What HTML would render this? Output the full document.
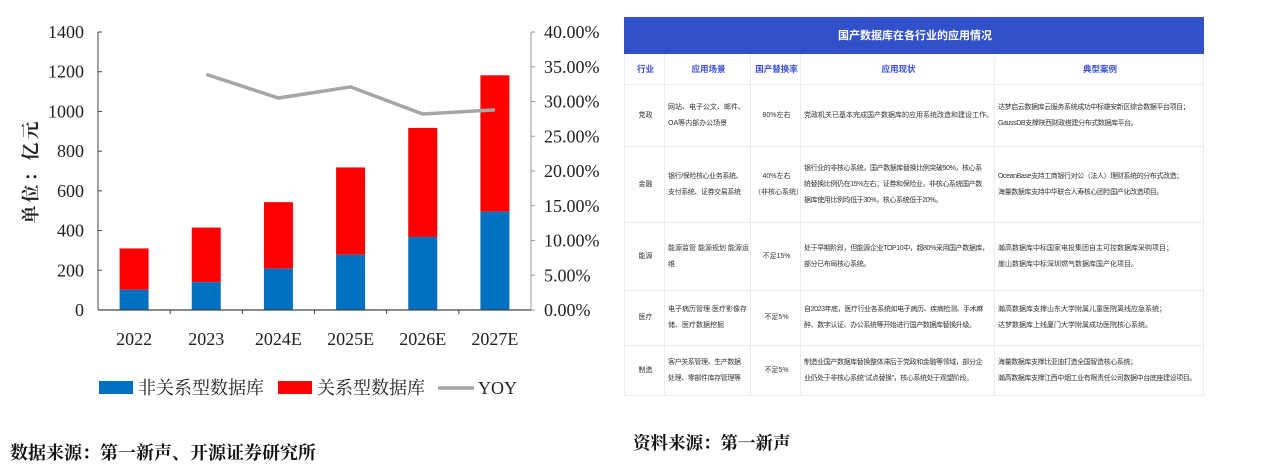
<!DOCTYPE html>
<html><head><meta charset="utf-8">
<style>
body{margin:0;width:1267px;height:473px;background:#fff;position:relative;overflow:hidden;font-family:"Liberation Serif","Noto Serif CJK SC",serif;}
svg text{font-family:"Liberation Serif","Noto Serif CJK SC",serif;}
#tbl{position:absolute;left:624px;top:17px;width:579px;border-collapse:collapse;table-layout:fixed;font-family:"Liberation Sans","Noto Sans CJK SC",sans-serif;font-size:7px;color:#333;line-height:16px;white-space:nowrap;}
#tbl td{border:1px solid #ececec;padding:0 1px 0 3px;vertical-align:middle;overflow:visible;}
#tbl .title{background:#3150c9;color:#fff;font-weight:bold;font-size:11px;text-align:center;border-color:#3150c9;}
#tbl .hd td{color:#3a4fd4;font-weight:bold;text-align:center;font-size:8.5px;}
.c{text-align:center;}
.t{letter-spacing:-0.4px;}
.src{position:absolute;font-weight:bold;font-size:18px;font-family:"Liberation Serif","Noto Serif CJK SC",serif;color:#111;}
</style></head><body>
<svg id="chart" width="600" height="420" style="position:absolute;left:0;top:0"></svg>
<div class="src" style="left:10px;top:439px">数据来源：第一新声、开源证券研究所</div>
<div class="src" style="left:633px;top:430px;font-size:17.5px">资料来源：第一新声</div>
<table id="tbl">
<colgroup><col style="width:40px"><col style="width:86px"><col style="width:50px"><col style="width:194px"><col style="width:209px"></colgroup>
<tr style="height:36px"><td colspan="5" class="title">国产数据库在各行业的应用情况</td></tr>
<tr class="hd" style="height:31px"><td>行业</td><td>应用场景</td><td>国产替换率</td><td>应用现状</td><td>典型案例</td></tr>
<tr style="height:62px"><td class="c">党政</td><td>网站、电子公文、邮件、<br>OA等内部办公场景</td><td class="c">80%左右</td><td>党政机关已基本完成国产数据库的应用系统改造和建设工作。</td><td class="t">达梦启云数据库云服务系统成功中标雄安新区综合数据平台项目；<br>GaussDB支撑陕西财政搭建分布式数据库平台。</td></tr>
<tr style="height:76px"><td class="c">金融</td><td class="t">银行/保险核心业务系统、<br>支付系统、证券交易系统</td><td class="c">40%左右<br>（非核心系统）</td><td class="t">银行业的非核心系统，国产数据库替换比例突破50%，核心系<br>统替换比例仍在15%左右；证券和保险业，非核心系统国产数<br>据库使用比例均低于30%，核心系统低于20%。</td><td class="t">OceanBase支持工商银行对公（法人）理财系统的分布式改造；<br>海量数据库支持中华联合人寿核心团险国产化改造项目。</td></tr>
<tr style="height:68px"><td class="c">能源</td><td>能源监管 能源规划 能源运<br>维</td><td class="c">不足15%</td><td class="t">处于早期阶段，但能源企业TOP10中，超80%采用国产数据库，<br>部分已布局核心系统。</td><td>瀚高数据库中标国家电投集团自主可控数据库采购项目；<br>崖山数据库中标深圳燃气数据库国产化项目。</td></tr>
<tr style="height:55px"><td class="c">医疗</td><td>电子病历管理 医疗影像存<br>储、医疗数据挖掘</td><td class="c">不足5%</td><td class="t">自2023年底，医疗行业各系统如电子病历、疾病检测、手术麻<br>醉、数字认证、办公系统等开始进行国产数据库替换升级。</td><td>瀚高数据库支撑山东大学附属儿童医院离线应急系统；<br>达梦数据库上线厦门大学附属成功医院核心系统。</td></tr>
<tr style="height:50px"><td class="c">制造</td><td class="t">客户关系管理、生产数据<br>处理、零部件库存管理等</td><td class="c">不足5%</td><td class="t">制造业国产数据库替换整体滞后于党政和金融等领域，部分企<br>业仍处于非核心系统“试点替换”，核心系统处于观望阶段。</td><td class="t">海量数据库支撑比亚迪打造全国智造核心系统；<br>瀚高数据库支撑江西中烟工业有限责任公司数据中台底座建设项目。</td></tr>
</table>
<script>
const categories=["2022","2023","2024E","2025E","2026E","2027E"];
const nonRelational=[102,140,208,278,368,495];
const relationalTotal=[310,415,543,718,917,1182];
const yoy=[null,33.9,30.5,32.1,28.2,28.8];
const leftTicks=[0,200,400,600,800,1000,1200,1400];
const rightTicks=[0,5,10,15,20,25,30,35,40];
const NS="http://www.w3.org/2000/svg";
const svg=document.getElementById('chart');
const X0=98,X1=531,Y0=310,Y1=32;
const band=(X1-X0)/categories.length;
const xc=i=>X0+band*(i+0.5);
const yL=v=>Y0-(v/1400)*(Y0-Y1);
const yR=v=>Y0-(v/40)*(Y0-Y1);
function mk(tag,attrs,txt){const e=document.createElementNS(NS,tag);for(const k in attrs)e.setAttribute(k,attrs[k]);if(txt!==undefined)e.textContent=txt;svg.appendChild(e);return e;}
let e;
e=mk('line',{x1:X0,y1:Y1,x2:X0,y2:Y0,stroke:'#444','stroke-width':1});


e=mk('line',{x1:X1,y1:Y1,x2:X1,y2:Y0,stroke:'#999','stroke-width':1});


leftTicks.forEach(v=>{
 mk('line',{x1:X0,y1:yL(v),x2:X0+4,y2:yL(v),stroke:'#444'});
 e=mk('text',{x:X0-14,y:yL(v)+6,'text-anchor':'end','font-size':18,fill:'#222'},v);
 
 
});
rightTicks.forEach(v=>{
 mk('line',{x1:X1,y1:yR(v),x2:X1+4,y2:yR(v),stroke:'#999'});
 e=mk('text',{x:X1+13,y:yR(v)+6,'font-size':18,fill:'#222'},v.toFixed(2)+'%');
 
 
});
categories.forEach((c,i)=>{
 const w=29;
 e=mk('rect',{x:xc(i)-w/2,y:yL(relationalTotal[i]),width:w,height:yL(nonRelational[i])-yL(relationalTotal[i]),fill:'#ff0000'});
 
 
 e=mk('rect',{x:xc(i)-w/2,y:yL(nonRelational[i]),width:w,height:Y0-yL(nonRelational[i]),fill:'#0070c0'});
 
 
 e=mk('text',{x:xc(i),y:345,'text-anchor':'middle','font-size':18,fill:'#222'},c);
 
 
 if(i>0)mk('line',{x1:X0+band*i,y1:Y0,x2:X0+band*i,y2:Y0+4,stroke:'#444'});
});
e=mk('line',{x1:X0,y1:Y0,x2:X1,y2:Y0,stroke:'#444','stroke-width':1.2});


const pts=yoy.map((v,i)=>v==null?null:xc(i)+','+yR(v)).filter(p=>p);
e=mk('polyline',{points:pts.join(' '),fill:'none',stroke:'#a6a6a6','stroke-width':3.5});


e=mk('text',{x:0,y:0,'font-size':18,'font-weight':'bold',fill:'#222',transform:'translate(37,171) rotate(-90)','text-anchor':'middle','letter-spacing':'3'},'单位：亿元');


e=mk('rect',{x:99,y:381,width:34,height:13,fill:'#0070c0'});


e=mk('text',{x:138,y:394,'font-size':18,fill:'#222'},'非关系型数据库');


e=mk('rect',{x:278,y:381,width:34,height:13,fill:'#ff0000'});


e=mk('text',{x:317,y:394,'font-size':18,fill:'#222'},'关系型数据库');


e=mk('line',{x1:438,y1:388,x2:474,y2:388,stroke:'#a6a6a6','stroke-width':3.5});


e=mk('text',{x:478,y:394,'font-size':18,fill:'#222'},'YOY');


</script>
</body></html>
